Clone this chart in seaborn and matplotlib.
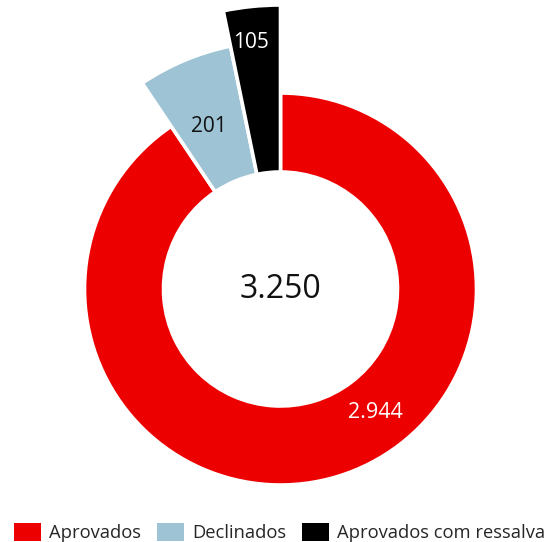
import matplotlib
matplotlib.use("Agg")
import matplotlib.pyplot as plt
from matplotlib.patches import Patch
import seaborn as sns
import numpy as np

categories = ["Aprovados", "Declinados", "Aprovados com ressalva"]
values = [2944, 201, 105]
value_labels = ["2.944", "201", "105"]
total_label = "3.250"
colors = ["#EC0000", "#9DC3D4", "#000000"]

sns.set_theme(style="white")
plt.rcParams["font.family"] = ["Open Sans", "DejaVu Sans"]

fig = plt.figure(figsize=(5.48, 5.42), dpi=100)
ax = fig.add_axes([0, 0, 1, 1])

inner = 117
outer = [196, 248, 284]

wedges, _ = ax.pie(values, colors=colors, startangle=90, counterclock=False,
                   radius=outer[0],
                   wedgeprops=dict(width=outer[0] - inner, edgecolor="white",
                                   linewidth=2.6))
for w, r in zip(wedges, outer):
    w.set_radius(r)
    w.set_width(r - inner)

ax.set_aspect("equal")
ax.set_xlim(-280.5, 267.5)
ax.set_ylim(-253, 289)
ax.axis("off")

# labels for the two small slices sit along their mid-angles
for w, lbl, rr, col in [(wedges[1], value_labels[1], 178, "#111111"),
                        (wedges[2], value_labels[2], 248, "white")]:
    ang = np.deg2rad((w.theta1 + w.theta2) / 2 + 1.0)
    ax.text(rr * np.cos(ang), rr * np.sin(ang), lbl, ha="center", va="center",
            fontsize=15, color=col)

ax.text(95, -123, value_labels[0], ha="center", va="center", fontsize=15.5,
        color="white")
ax.text(0, 0, total_label, ha="center", va="center", fontsize=23,
        color="#111111")

handles = [Patch(facecolor=c, edgecolor="none") for c in colors]
fig.legend(handles, categories, loc="lower left",
           bbox_to_anchor=(14 / 548, 0.0), ncol=3, frameon=False,
           fontsize=13.2, handlelength=1.45, handleheight=1.15,
           handletextpad=0.47, columnspacing=0.86, borderpad=0.0,
           borderaxespad=0.0)

fig.savefig("out.png", dpi=100)
